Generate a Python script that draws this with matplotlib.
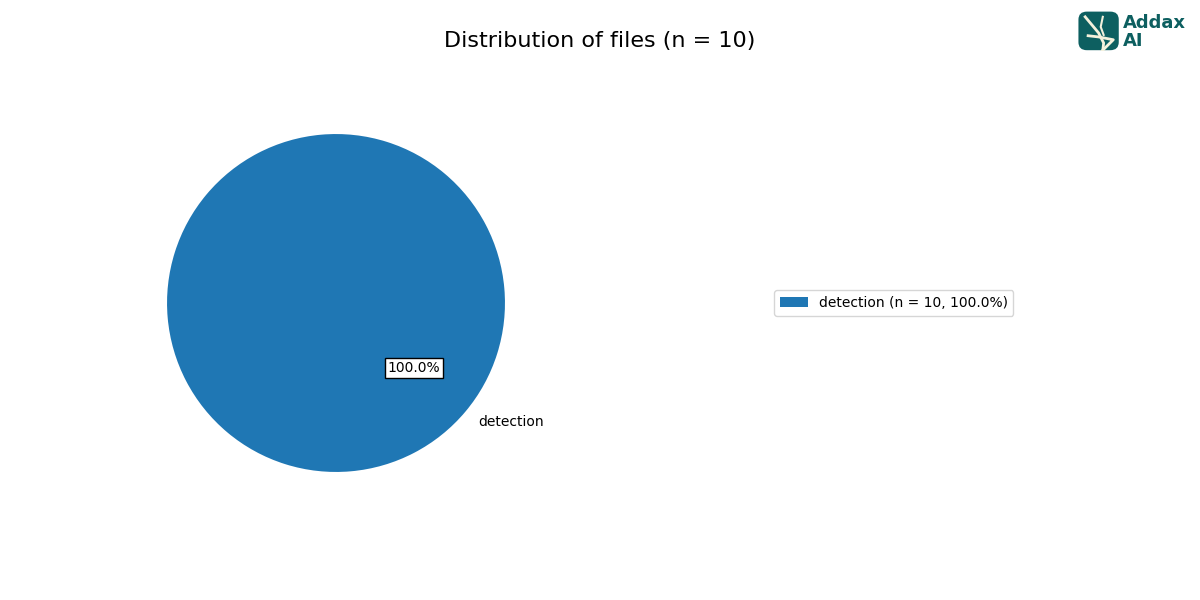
import matplotlib.pyplot as plt
from matplotlib.patches import FancyBboxPatch

labels = ["detection"]
counts = [10]
total = sum(counts)

fig = plt.figure(figsize=(12, 6), dpi=100)
ax = fig.add_axes([0.104, 0.143, 0.352, 0.704])

wedges, texts, autotexts = ax.pie(counts, labels=labels, startangle=140,
                                  autopct="%1.1f%%", colors=["#1f77b4"])
for t in autotexts:
    t.set_bbox(dict(facecolor="white", edgecolor="black", pad=2))
ax.set_aspect("equal")

leg_labels = [f"{l} (n = {c}, {c / total * 100:.1f}%)" for l, c in zip(labels, counts)]
fig.legend(wedges, leg_labels, loc="center left", bbox_to_anchor=(0.6395, 0.495))

fig.suptitle(f"Distribution of files (n = {total})", fontsize=16, y=0.948)

# logo
teal = "#0d5f60"
logo = fig.add_axes([0.898, 0.915, 0.035, 0.067])
logo.set_xlim(0, 1)
logo.set_ylim(0, 1)
logo.axis("off")
logo.add_patch(FancyBboxPatch((0.02, 0.02), 0.96, 0.96,
                              boxstyle="round,pad=0,rounding_size=0.2",
                              facecolor=teal, edgecolor="none"))
logo.plot([0.18, 0.5, 0.62, 0.6], [0.85, 0.45, 0.2, 0.02], color="#f4f1dc", lw=2)
logo.plot([0.6, 0.55, 0.62], [0.85, 0.6, 0.4], color="#f4f1dc", lw=1.5)
logo.plot([0.25, 0.5, 0.85, 0.6], [0.38, 0.35, 0.28, 0.02], color="#f4f1dc", lw=2)
fig.text(0.936, 0.962, "Addax", color=teal, fontsize=13, fontweight="bold", va="center")
fig.text(0.936, 0.932, "AI", color=teal, fontsize=13, fontweight="bold", va="center")

fig.savefig("out.png")
